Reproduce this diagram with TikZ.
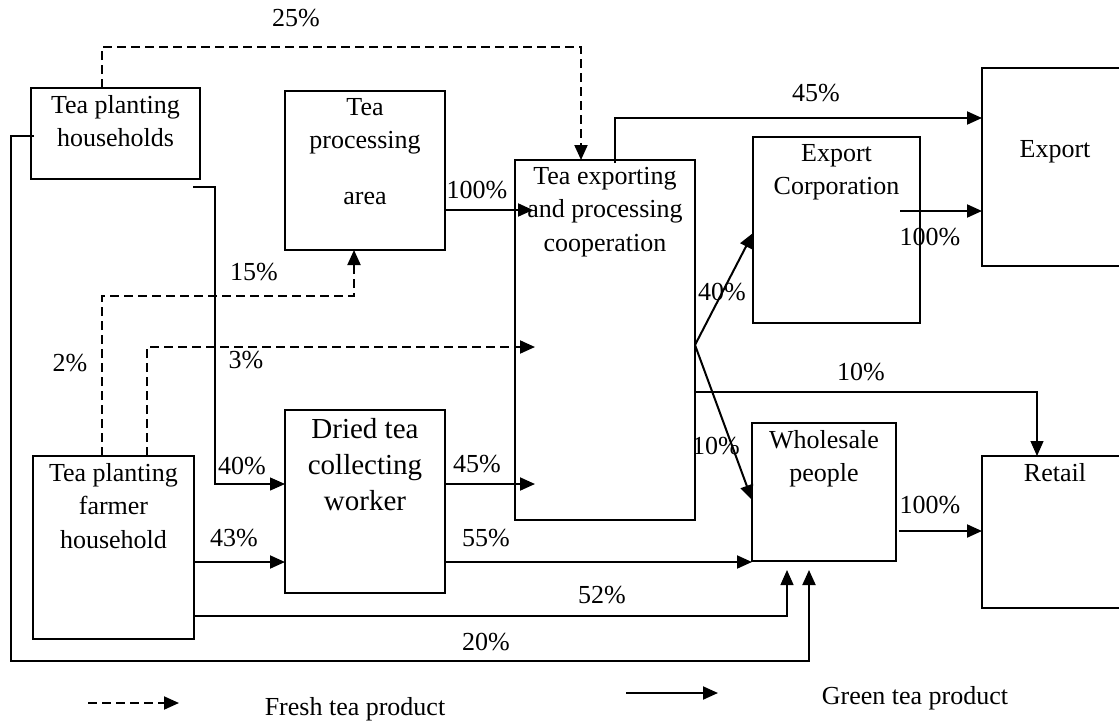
\documentclass[tikz,border=0pt]{standalone}
\usepackage{fontspec}
\setmainfont{Liberation Serif}
\usetikzlibrary{arrows.meta}
\usetikzlibrary{calc}
\usetikzlibrary{positioning}

\begin{document}
\begin{tikzpicture}[->,>={Triangle[length=15pt,width=13pt]},x=1pt,y=-1pt]
	\tikzset{block/.style = {shape=rectangle, draw, line width=1.8pt, anchor=north west, inner sep=0pt, outer sep=0pt},
		intext/.style = {anchor=north, yshift=-7pt, align=center, inner sep=0pt, font=\fontsize{26}{33.5}\selectfont},
		pct/.style = {inner sep=0pt, font=\fontsize{26}{30}\selectfont},
		greentea/.style = {line width=2pt},
		freshtea/.style = {line width=2pt, dash pattern=on 9pt off 5pt},
		thinline/.style = {line width=1.3pt}}
	\useasboundingbox (0,0) rectangle (1119,721);
	
	\node[block, minimum width=169pt, minimum height=91pt, label={[intext]north:Tea planting\\households}] (tph) at (31,88) {};
	\node[block, minimum width=160pt, minimum height=159pt, label={[intext]north:Tea\\processing\\[22pt]area}] (tpa) at (285,91) {};
	\node[block, minimum width=180pt, minimum height=360pt, label={[intext]north:Tea exporting\\and processing\\cooperation}] (tepc) at (515,160) {};
	\node[block, minimum width=167pt, minimum height=186pt, label={[intext]north:Export\\Corporation}] (expc) at (753,137) {};
	\node[block, minimum width=146pt, minimum height=198pt, label={[intext, yshift=-65pt]north:Export}] (export) at (982,68) {};
	\node[block, minimum width=146pt, minimum height=152pt, label={[intext]north:Retail}] (retail) at (982,456) {};
	\node[block, minimum width=161pt, minimum height=183pt, label={[intext]north:Tea planting\\farmer\\household}] (tpfh) at (33,456) {};
	\node[block, minimum width=160pt, minimum height=183pt, label={[intext, yshift=-1pt, font=\fontsize{29}{36}\selectfont]north:Dried tea\\collecting\\worker}] (dtcw) at (285,410) {};
	\node[block, minimum width=144pt, minimum height=138pt, label={[intext]north:Wholesale\\people}] (whole) at (752,423) {};
	
	% fresh tea
	\draw[freshtea] ($(tph.north west)+(71,0)$) -- ++(0,-41) -| ($(tepc.north west)+(66,0)$);
	\draw[freshtea] ($(tpfh.north west)+(69,0)$) |- ($(tpa.south west)+(69,46)$) -- ($(tpa.south west)+(69,0)$);
	\draw[freshtea] ($(tpfh.north west)+(114,0)$) |- ($(tepc.north west)+(20,187)$);
	
	% green tea
	\draw[greentea] ($(tph.north west)+(3,48)$) -| (11,661) -| ($(whole.south west)+(57,9)$);
	\draw[thinline] ($(tph.south east)+(-7,8)$) -| ($(dtcw.north west)+(-70,74)$) -- ($(dtcw.north west)+(0,74)$);
	\draw[greentea] ($(tpa.north east)+(0,119)$) -- ($(tepc.north west)+(18,50)$);
	\draw[greentea] ($(dtcw.north east)+(0,74)$) -- ($(tepc.north west)+(20,324)$);
	\draw[greentea] ($(tpfh.north east)+(0,106)$) -- ($(dtcw.north west)+(0,152)$);
	\draw[greentea] ($(dtcw.north east)+(0,152)$) -- ($(whole.south west)+(0,1)$);
	\draw[thinline] ($(tpfh.north east)+(0,160)$) -| ($(whole.south west)+(35,9)$);
	\draw[greentea] ($(tepc.north west)+(100,3)$) |- ($(export.north west)+(0,50)$);
	\draw[greentea] ($(tepc.north east)+(0,185)$) -- ($(expc.north west)+(0,96)$);
	\draw[greentea] ($(tepc.north east)+(0,185)$) -- ($(whole.north west)+(0,77)$);
	\draw[thinline] ($(tepc.north east)+(0,232)$) -| ($(retail.north west)+(55,0)$);
	\draw[greentea] ($(expc.north west)+(147,74)$) -- ($(export.north west)+(0,143)$);
	\draw[greentea] ($(whole.north east)+(3,108)$) -- ($(retail.north west)+(0,75)$);
	
	\node[pct] (l25) at (296,18) {25\%};
	\node[pct] (l20) at (486,642) {20\%};
	\node[pct] (l40a) at (242,466) {40\%};
	\node[pct] (l15) at (254,272) {15\%};
	\node[pct] (l2) at (70,363) {2\%};
	\node[pct] (l3) at (246,360) {3\%};
	\node[pct] (l100a) at (477,190) {100\%};
	\node[pct] (l45a) at (477,464) {45\%};
	\node[pct] (l43) at (234,538) {43\%};
	\node[pct] (l55) at (486,538) {55\%};
	\node[pct] (l52) at (602,595) {52\%};
	\node[pct] (l45b) at (816,93) {45\%};
	\node[pct] (l40b) at (722,292) {40\%};
	\node[pct] (l10a) at (716,446) {10\%};
	\node[pct] (l10b) at (861,372) {10\%};
	\node[pct] (l100b) at (930,237) {100\%};
	\node[pct] (l100c) at (930,505) {100\%};
	
	% legend
	\coordinate (fa) at (88,703);
	\coordinate (fb) at (179,703);
	\coordinate (ga) at (626,693);
	\coordinate (gb) at (718,693);
	\draw[freshtea] (fa) -- (fb);
	\draw[greentea] (ga) -- (gb);
	\node[pct] (lfresh) at (355,709) {Fresh tea product};
	\node[pct] (lgreen) at (915,698) {Green tea product};
\end{tikzpicture}
\end{document}
